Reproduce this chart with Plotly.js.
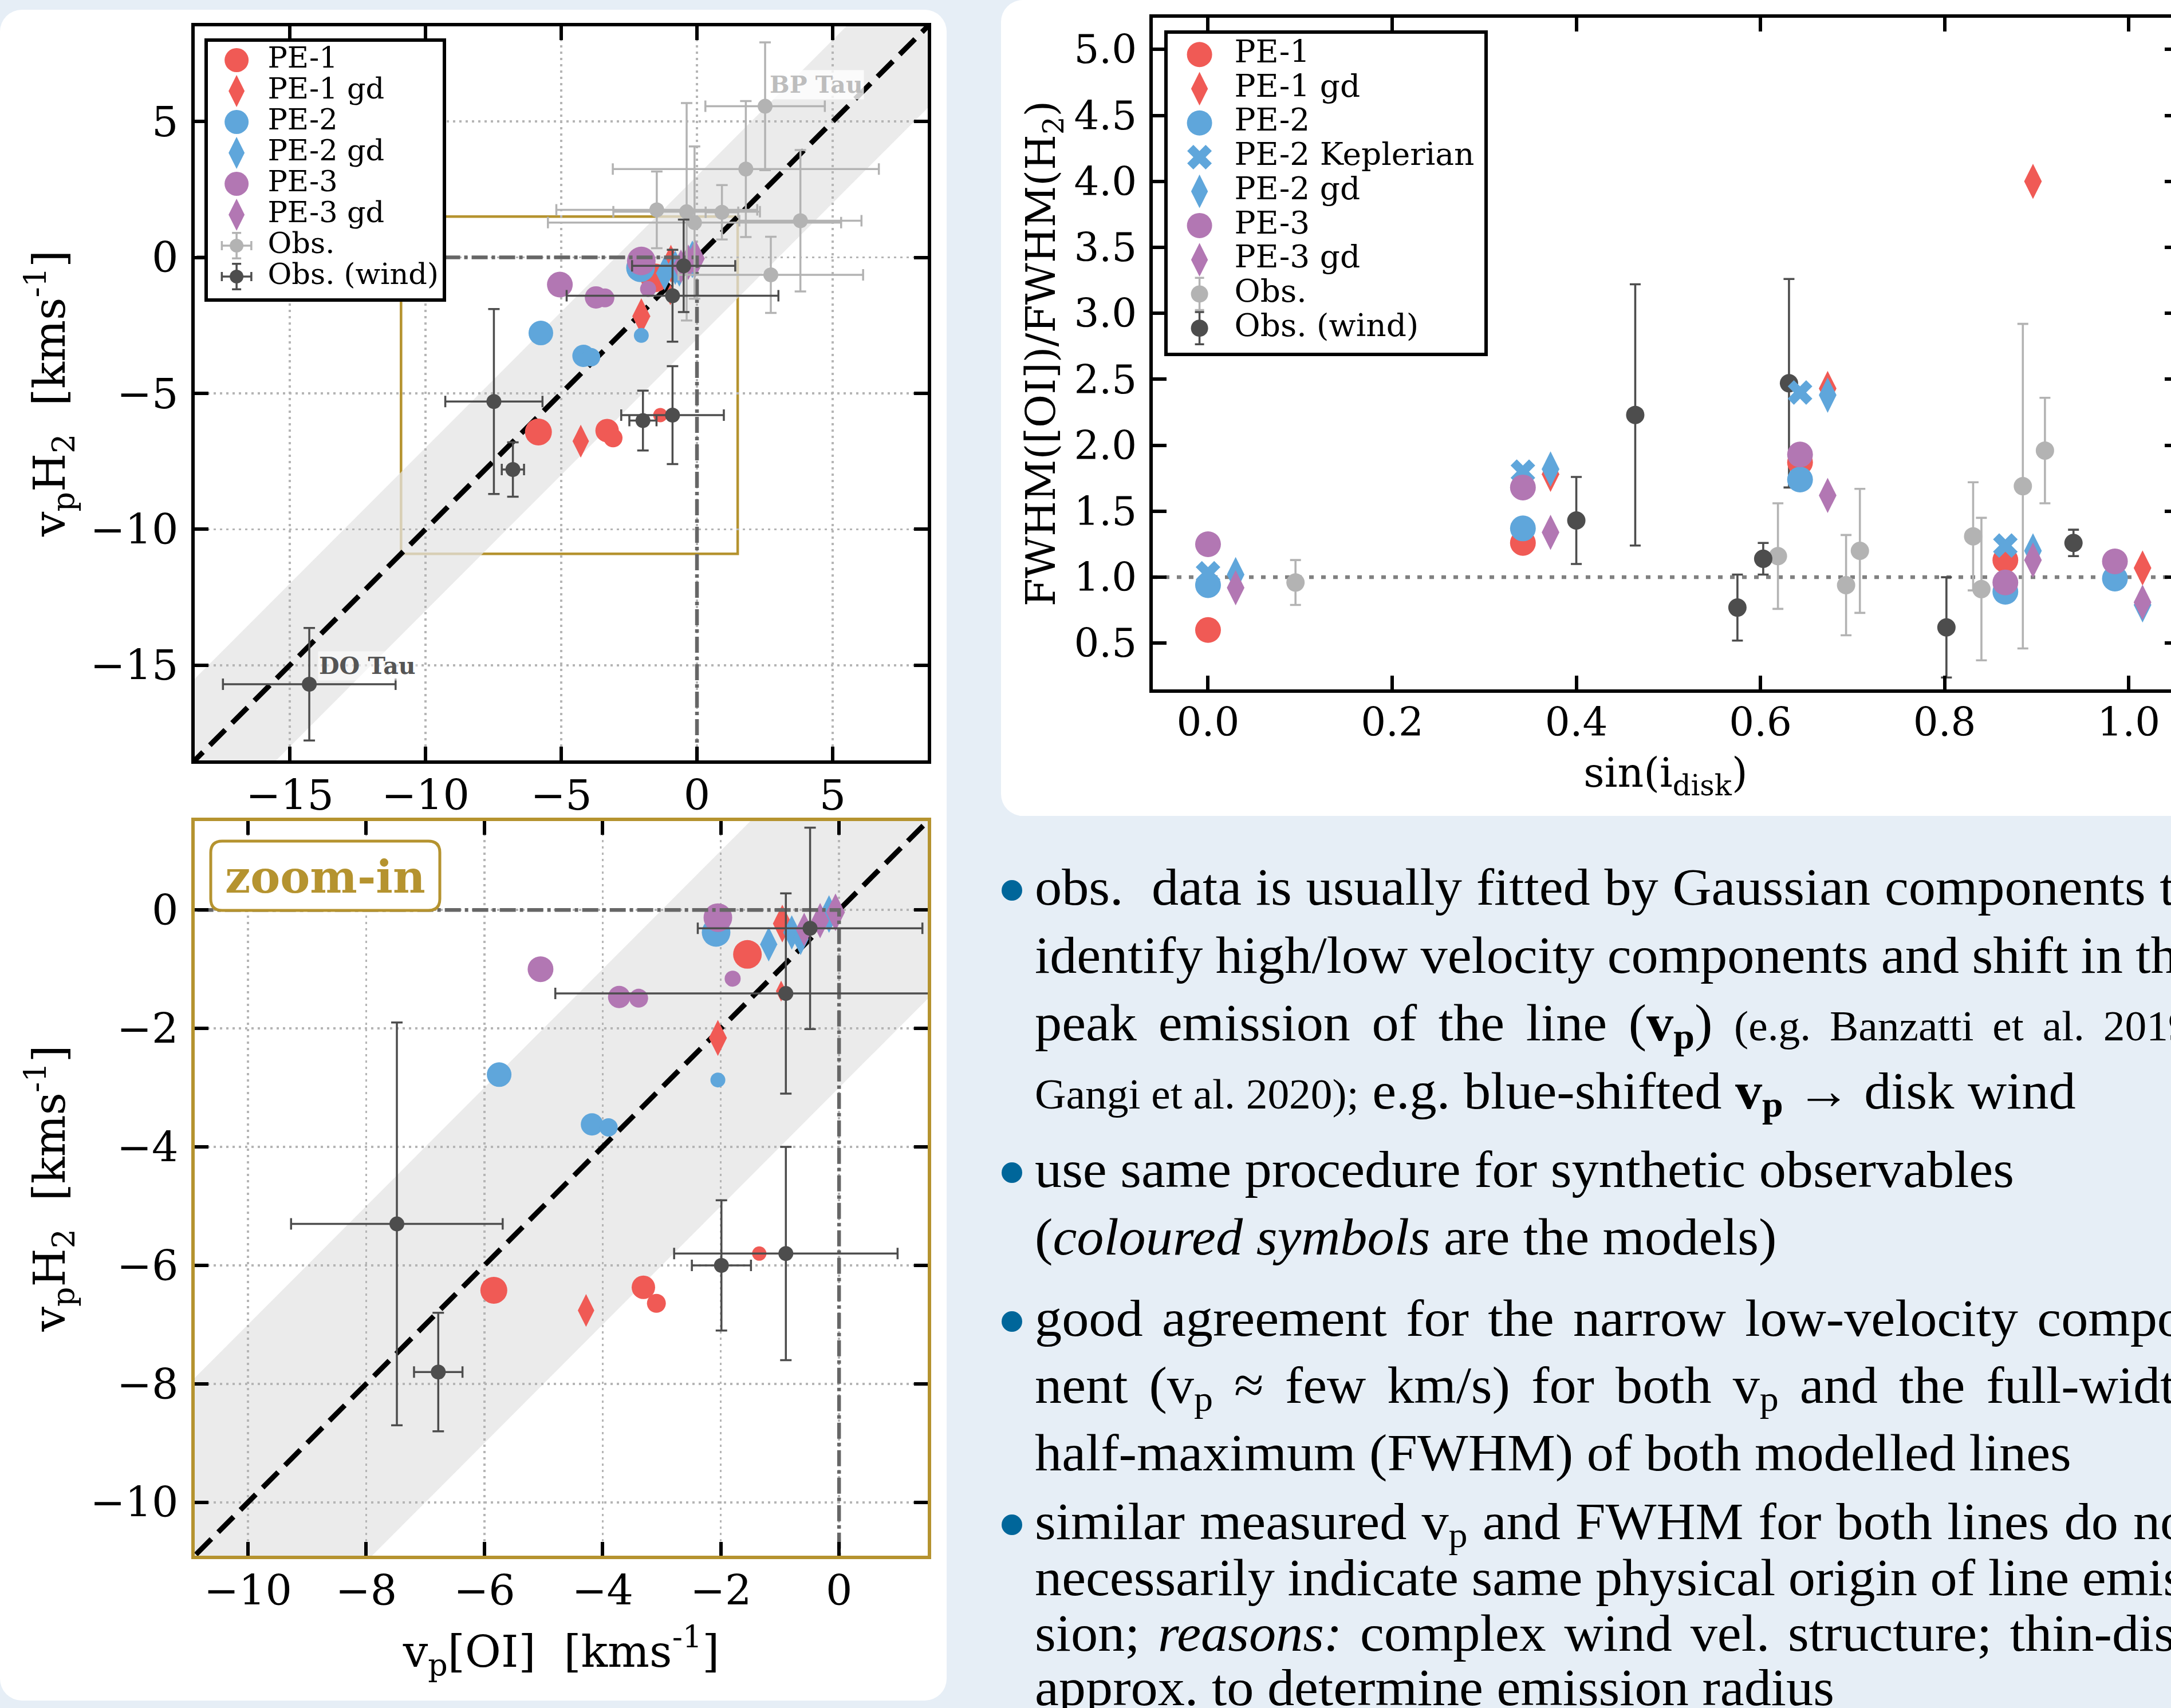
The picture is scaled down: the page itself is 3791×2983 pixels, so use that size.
<!DOCTYPE html>
<html>
<head>
<meta charset="utf-8">
<title>vp and FWHM comparison: [OI] vs H2</title>
<script src="https://cdn.plot.ly/plotly-3.0.1.min.js"></script>
<style>
  html, body { margin:0; padding:0; width:3791px; height:2983px; overflow:hidden; background:#e6eef6; }
  .panel { position:absolute; background:#ffffff; border-radius:38px; }
  #chart { position:absolute; left:0; top:0; width:3830px; height:2983px; z-index:1; }
  #notes { position:absolute; left:0; top:0; z-index:2; }
  .ln { position:absolute; left:1807px; font-family:'Liberation Serif','Times New Roman',serif; font-size:92px; line-height:0.9; color:#000; transform:scaleX(1.025); transform-origin:0 0; white-space:nowrap; }
  .ln sub { font-size:0.7em; vertical-align:-0.22em; line-height:0; }
  .sm { font-size:0.8em; }
  .bul { position:absolute; left:1749px; width:36px; height:36px; border-radius:50%; background:#00669a; }
</style>
</head>
<body>
<div class="panel" style="left:0;top:17px;width:1653px;height:2953px;"></div>
<div class="panel" style="left:1748px;top:0;width:2200px;height:1425px;"></div>
<div id="chart"></div>
<div id="notes"></div>
<script>
// ================= DATA =================
// Left panels: peak velocity v_p of [OI] (x) vs H2 (y), km/s
const pe1_vOI   = [-1.55, -5.84, -3.31, -3.09, -1.35];
const pe1_vH2   = [-0.75, -6.42, -6.37, -6.64, -5.80];
const pe1gd_vOI = [-2.05, -4.28, -0.96, -0.98];
const pe1gd_vH2 = [-2.16, -6.76, -0.23, -1.37];
const pe2_vOI   = [-2.08, -5.75, -4.18, -3.90, -2.05];
const pe2_vH2   = [-0.38, -2.78, -3.62, -3.67, -2.87];
const pe2gd_vOI = [-1.19, -0.80, -0.65, -0.17];
const pe2gd_vH2 = [-0.58, -0.38, -0.49, -0.07];
const pe3_vOI   = [-2.05, -5.05, -3.72, -3.39, -1.80];
const pe3_vH2   = [-0.13, -1.00, -1.47, -1.49, -1.16];
const pe3gd_vOI = [-0.59, -0.32, -0.06];
const pe3gd_vH2 = [-0.33, -0.18, -0.04];

const obs_vOI     = [2.51, 1.80, -1.48, -0.38, 0.92, -0.09, 3.81, 2.72];
const obs_vOIerr  = [2.20, 4.90, 3.70, 2.70, 0.60, 5.40, 2.25, 3.40];
const obs_vH2     = [5.56, 3.25, 1.75, 1.68, 1.66, 1.28, 1.35, -0.64];
const obs_vH2err  = [2.35, 2.50, 1.41, 4.00, 1.00, 2.80, 2.60, 1.40];

const wind_vOI    = [-0.49, -0.90, -7.48, -6.78, -1.99, -0.90, -14.28];
const wind_vOIerr = [1.90, 3.90, 1.79, 0.41, 0.50, 1.89, 3.18];
const wind_vH2    = [-0.31, -1.41, -5.30, -7.80, -6.00, -5.80, -15.70];
const wind_vH2err = [1.70, 1.69, 3.40, 1.00, 1.10, 1.80, 2.07];

// Right panel: FWHM([OI])/FWHM(H2) vs sin(i_disk)
const pe1_sini     = [0.000, 0.342, 0.643, 0.866];
const pe1_ratio    = [0.60, 1.26, 1.87, 1.13];
const pe1gd_sini   = [0.372, 0.673, 0.896, 1.015];
const pe1gd_ratio  = [1.78, 2.43, 4.00, 1.07];
const pe2_sini     = [0.000, 0.342, 0.643, 0.866, 0.985];
const pe2_ratio    = [0.94, 1.37, 1.74, 0.89, 0.99];
const pe2kep_sini  = [0.000, 0.342, 0.643, 0.866];
const pe2kep_ratio = [1.03, 1.80, 2.40, 1.24];
const pe2gd_sini   = [0.030, 0.372, 0.673, 0.896, 1.015];
const pe2gd_ratio  = [1.02, 1.82, 2.38, 1.20, 0.79];
const pe3_sini     = [0.000, 0.342, 0.643, 0.866, 0.985];
const pe3_ratio    = [1.25, 1.68, 1.93, 0.96, 1.12];
const pe3gd_sini   = [0.030, 0.372, 0.673, 0.896, 1.015];
const pe3gd_ratio  = [0.92, 1.34, 1.62, 1.13, 0.81];
const obsR_sini    = [0.095, 0.619, 0.693, 0.708, 0.831, 0.840, 0.885, 0.909];
const obsR_ratio   = [0.96, 1.16, 0.94, 1.20, 1.31, 0.91, 1.69, 1.96];
const obsR_err     = [0.17, 0.40, 0.38, 0.47, 0.41, 0.54, 1.23, 0.40];
const windR_sini   = [0.400, 0.464, 0.575, 0.603, 0.631, 0.802, 0.940];
const windR_ratio  = [1.43, 2.23, 0.77, 1.14, 2.47, 0.62, 1.26];
const windR_err    = [0.33, 0.99, 0.25, 0.12, 0.79, 0.38, 0.10];

// Axis ranges / reference values
const fullRange   = [-18.5, 8.5];
const zoomRange   = [-10.9, 1.5];
const rightXRange = [-0.06, 1.054];
const rightYRange = [0.15, 5.24];
const bandHalfWidth = 3;      // km/s band around 1:1 line
const ratioRef = 1.0;

// Legend labels and labelled objects
const leftLegendNames  = ['PE-1', 'PE-1 gd', 'PE-2', 'PE-2 gd', 'PE-3', 'PE-3 gd', 'Obs.', 'Obs. (wind)'];
const rightLegendNames = ['PE-1', 'PE-1 gd', 'PE-2', 'PE-2 Keplerian', 'PE-2 gd', 'PE-3', 'PE-3 gd', 'Obs.', 'Obs. (wind)'];
const labelBP = {name: 'BP Tau', x: 4.39, y: 6.36};
const labelDO = {name: 'DO Tau', x: -12.15, y: -15.02};

// Text block
const noteText = [
  'obs.\u00a0 data is usually fitted by Gaussian components to',
  'identify high/low velocity components and shift in the',
  'peak emission of the line (<b>v<sub>p</sub></b>) <span class="sm">(e.g. Banzatti et al. 2019;</span>',
  '<span class="sm">Gangi et al. 2020);</span> e.g. blue-shifted <b>v<sub>p</sub></b> \u2192 disk wind',
  'use same procedure for synthetic observables',
  '(<i>coloured symbols</i> are the models)',
  'good agreement for the narrow low-velocity compo-',
  'nent (v<sub>p</sub> \u2248 few km/s) for both v<sub>p</sub> and the full-width',
  'half-maximum (FWHM) of both modelled lines',
  'similar measured v<sub>p</sub> and FWHM for both lines do not',
  'necessarily indicate same physical origin of line emis-',
  'sion; <i>reasons:</i> complex wind vel. structure; thin-disk',
  'approx. to determine emission radius'
];

// ================= STYLE / LAYOUT =================
const W = 3830, H = 2983;
const px = v => v / W;
const py = v => 1 - v / H;
const C = {pe1:'#f05a55', pe2:'#5fa6db', pe3:'#b277b3', obs:'#b3b3b3', wind:'#4d4d4d', gold:'#b5932f'};
const SERIF = 'DejaVu Serif';

const pe1_sz = [50, 47, 41, 33, 25];
const pe1gd_sz = [45, 41, 47, 26];
const pe2_sz = [50, 43, 39, 32, 26];
const pe2gd_sz = [43, 43, 40, 47];
const pe3_sz = [50, 45, 39, 33, 28];
const pe3gd_sz = [42, 44, 47];

const leftModels = [
  {x: pe1_vOI,   y: pe1_vH2,   c: C.pe1, s: 'circle',       sz: pe1_sz},
  {x: pe1gd_vOI, y: pe1gd_vH2, c: C.pe1, s: 'diamond-tall', sz: pe1gd_sz},
  {x: pe2_vOI,   y: pe2_vH2,   c: C.pe2, s: 'circle',       sz: pe2_sz},
  {x: pe2gd_vOI, y: pe2gd_vH2, c: C.pe2, s: 'diamond-tall', sz: pe2gd_sz},
  {x: pe3_vOI,   y: pe3_vH2,   c: C.pe3, s: 'circle',       sz: pe3_sz},
  {x: pe3gd_vOI, y: pe3gd_vH2, c: C.pe3, s: 'diamond-tall', sz: pe3gd_sz}
];
const rightModels = [
  {x: pe1_sini,    y: pe1_ratio,    c: C.pe1, s: 'circle',       sz: 45},
  {x: pe1gd_sini,  y: pe1gd_ratio,  c: C.pe1, s: 'diamond-tall', sz: 44},
  {x: pe2_sini,    y: pe2_ratio,    c: C.pe2, s: 'circle',       sz: 45},
  {x: pe2kep_sini, y: pe2kep_ratio, c: C.pe2, s: 'x',            sz: 38},
  {x: pe2gd_sini,  y: pe2gd_ratio,  c: C.pe2, s: 'diamond-tall', sz: 44},
  {x: pe3_sini,    y: pe3_ratio,    c: C.pe3, s: 'circle',       sz: 45},
  {x: pe3gd_sini,  y: pe3gd_ratio,  c: C.pe3, s: 'diamond-tall', sz: 44}
];

const data = [];
function base(xa, ya) { return {type:'scatter', xaxis:xa, yaxis:ya, hoverinfo:'skip', showlegend:false}; }

function leftPanel(xa, ya, range, withObs) {
  const lo = range[0] - 6, hi = range[1] + 6;
  data.push(Object.assign(base(xa, ya), {mode:'lines', x:[lo, hi], y:[lo, hi],
    line:{color:'#000', width:9, dash:'38px,17px'}}));
  leftModels.forEach(m => data.push(Object.assign(base(xa, ya), {mode:'markers', x:m.x, y:m.y,
    marker:{color:m.c, symbol:m.s, size:m.sz, opacity:1, line:{width:0}}})));
  data.push(Object.assign(base(xa, ya), {mode:'lines', x:[lo, 0, 0], y:[0, 0, lo],
    line:{color:'#666666', width:6.5, dash:'28px,7px,6px,7px'}}));
  if (withObs) {
    data.push(Object.assign(base(xa, ya), {mode:'markers', x:obs_vOI, y:obs_vH2,
      marker:{color:C.obs, size:26, opacity:1},
      error_x:{type:'data', array:obs_vOIerr, color:C.obs, thickness:3.5, width:10},
      error_y:{type:'data', array:obs_vH2err, color:C.obs, thickness:3.5, width:10}}));
  }
  data.push(Object.assign(base(xa, ya), {mode:'markers', x:wind_vOI, y:wind_vH2,
    marker:{color:C.wind, size:26, opacity:1},
    error_x:{type:'data', array:wind_vOIerr, color:C.wind, thickness:3.5, width:10},
    error_y:{type:'data', array:wind_vH2err, color:C.wind, thickness:3.5, width:10}}));
}
leftPanel('x', 'y', fullRange, true);
leftPanel('x2', 'y2', zoomRange, false);

// Right panel
data.push(Object.assign(base('x3', 'y3'), {mode:'lines', x:rightXRange, y:[ratioRef, ratioRef],
  line:{color:'#808080', width:6.5, dash:'8px,13px'}}));
data.push(Object.assign(base('x3', 'y3'), {mode:'markers', x:obsR_sini, y:obsR_ratio,
  marker:{color:C.obs, size:32, opacity:1},
  error_y:{type:'data', array:obsR_err, color:C.obs, thickness:3.6, width:9.5}}));
data.push(Object.assign(base('x3', 'y3'), {mode:'markers', x:windR_sini, y:windR_ratio,
  marker:{color:C.wind, size:32, opacity:1},
  error_y:{type:'data', array:windR_err, color:C.wind, thickness:3.6, width:9.5}}));
rightModels.forEach(m => data.push(Object.assign(base('x3', 'y3'), {mode:'markers', x:m.x, y:m.y,
  marker:{color:m.c, symbol:m.s, size:m.sz, opacity:1, line:{width:0}}})));

// Legends (drawn on their own invisible axes; rows = entry index)
function legend(xa, ya, names, models, symX, txtX, msz, obsSz, obsErrX, obsErrY, fontSize) {
  const rows = names.map((_, i) => i);
  const nm = models.length;
  data.push(Object.assign(base(xa, ya), {mode:'markers',
    x: rows.slice(0, nm).map(() => symX), y: rows.slice(0, nm),
    marker:{color: models.map(m => m.c), symbol: models.map(m => m.s), opacity:1,
            size: models.map(m => m.s === 'circle' ? msz[0] : (m.s === 'x' ? msz[2] : msz[1])), line:{width:0}}}));
  [[C.obs, nm], [C.wind, nm + 1]].forEach(([col, r]) => {
    const t = Object.assign(base(xa, ya), {mode:'markers', x:[symX], y:[rows[r]],
      marker:{color:col, size:obsSz, opacity:1},
      error_y:{type:'data', array:[obsErrY], color:col, thickness:3.5, width:8}});
    if (obsErrX) t.error_x = {type:'data', array:[obsErrX], color:col, thickness:3.5, width:8};
    data.push(t);
  });
  data.push(Object.assign(base(xa, ya), {mode:'text', x: rows.map(() => txtX), y: rows, text: names,
    textposition:'middle right', textfont:{family:SERIF, size:fontSize, color:'#000'}, cliponaxis:false}));
}
legend('x4', 'y4', leftLegendNames, leftModels.map(m => ({c:m.c, s:m.s})), 0.133, 0.262, [42, 40, 38], 24, 0.061, 0.41, 51);
legend('x5', 'y5', rightLegendNames, rightModels.map(m => ({c:m.c, s:m.s})), 0.109, 0.217, [44, 42, 38], 30, 0, 0.47, 55);

// Axes
function frameAxis(o) {
  return Object.assign({
    ticks:'inside', ticklen:24, tickwidth:6, tickcolor:'#000',
    showline:true, linewidth:6, linecolor:'#000', mirror:'ticks',
    zeroline:false, showgrid:false,
    tickfont:{family:SERIF, size:73, color:'#000'}, ticklabelstandoff:8
  }, o);
}
const grid = {showgrid:true, gridcolor:'#b5b5b5', gridwidth:3.5, griddash:'3.5px,7.5px'};
const vTitle = 'v<sub>p</sub>H<sub>2</sub>\u00a0\u00a0[kms<sup>-1</sup>]';
const hidden = {visible:false, showgrid:false, zeroline:false};
const xLabStand = -8;

const layout = {
  width:W, height:H, margin:{l:0, r:0, t:0, b:0},
  paper_bgcolor:'rgba(0,0,0,0)', plot_bgcolor:'#ffffff', showlegend:false,
  font:{family:SERIF, color:'#000'},
  xaxis: frameAxis(Object.assign({domain:[px(340), px(1620)], range:fullRange, dtick:5, tick0:0, anchor:'y',
    ticklabelstandoff:xLabStand}, grid)),
  yaxis: frameAxis(Object.assign({domain:[py(1328), py(46)], range:fullRange, dtick:5, tick0:0, anchor:'x',
    title:{text:vTitle, font:{family:SERIF, size:77}, standoff:20}}, grid)),
  xaxis2: frameAxis(Object.assign({domain:[px(340), px(1620)], range:zoomRange, dtick:2, tick0:0, anchor:'y2', linecolor:C.gold,
    ticklabelstandoff:xLabStand,
    title:{text:'v<sub>p</sub>[OI]\u00a0\u00a0[kms<sup>-1</sup>]', font:{family:SERIF, size:77}, standoff:40}}, grid)),
  yaxis2: frameAxis(Object.assign({domain:[py(2717), py(1434)], range:zoomRange, dtick:2, tick0:0, anchor:'x2', linecolor:C.gold,
    title:{text:vTitle, font:{family:SERIF, size:77}, standoff:20}}, grid)),
  xaxis3: frameAxis({domain:[px(2013), px(3804)], range:rightXRange, dtick:0.2, tick0:0, tickformat:'.1f', anchor:'y3',
    ticklabelstandoff:xLabStand, tickfont:{family:SERIF, size:69, color:'#000'},
    title:{text:'sin(i<sub>disk</sub>)', font:{family:SERIF, size:71}, standoff:27}}),
  yaxis3: frameAxis({domain:[py(1204), py(31)], range:rightYRange, dtick:0.5, tick0:0, tickformat:'.1f', anchor:'x3',
    tickfont:{family:SERIF, size:69, color:'#000'},
    title:{text:'FWHM([OI])/FWHM(H<sub>2</sub>)', font:{family:SERIF, size:71}, standoff:12}}),
  xaxis4: Object.assign({domain:[px(357), px(779)], range:[0, 1], anchor:'y4'}, hidden),
  yaxis4: Object.assign({domain:[py(527), py(67)], range:[7.815, -0.704], anchor:'x4'}, hidden),
  xaxis5: Object.assign({domain:[px(2033), px(2598)], range:[0, 1], anchor:'y5'}, hidden),
  yaxis5: Object.assign({domain:[py(622), py(53)], range:[8.818, -0.707], anchor:'x5'}, hidden),
  shapes: [],
  annotations: []
};

// zoom window outline in the full panel (below the band)
layout.shapes.push({type:'rect', xref:'x', yref:'y', x0:zoomRange[0], x1:zoomRange[1], y0:zoomRange[0], y1:zoomRange[1],
  line:{color:C.gold, width:4.5}, fillcolor:'rgba(0,0,0,0)', layer:'below'});
// +/- band around the 1:1 line
[['x', 'y', fullRange], ['x2', 'y2', zoomRange]].forEach(([xa, ya, r]) => {
  const a = r[0] - 6, b = r[1] + 6, d = bandHalfWidth;
  layout.shapes.push({type:'path', xref:xa, yref:ya, layer:'below', line:{width:0},
    fillcolor:'rgba(228,228,228,0.74)',
    path:`M${a},${a - d} L${b},${b - d} L${b},${b + d} L${a},${a + d} Z`});
});
// legend frames
layout.shapes.push({type:'rect', xref:'x4', yref:'y4', x0:0, x1:1, y0:-0.704, y1:7.815,
  fillcolor:'#ffffff', line:{color:'#000', width:12}, layer:'below'});
layout.shapes.push({type:'rect', xref:'x5', yref:'y5', x0:0, x1:1, y0:-0.707, y1:8.818,
  fillcolor:'#ffffff', line:{color:'#000', width:12}, layer:'below'});
// zoom-in label box (rounded)
(function () {
  const x0 = 368, x1 = 768, y0 = 1469, y1 = 1590, r = 20;
  const P = (x, y) => `${px(x)},${py(y)}`;
  const path = `M${P(x0 + r, y0)} L${P(x1 - r, y0)} Q${P(x1, y0)} ${P(x1, y0 + r)} L${P(x1, y1 - r)} Q${P(x1, y1)} ${P(x1 - r, y1)} ` +
               `L${P(x0 + r, y1)} Q${P(x0, y1)} ${P(x0, y1 - r)} L${P(x0, y0 + r)} Q${P(x0, y0)} ${P(x0 + r, y0)} Z`;
  layout.shapes.push({type:'path', xref:'paper', yref:'paper', path, fillcolor:'#ffffff',
    line:{color:C.gold, width:5}, layer:'above'});
  layout.annotations.push({xref:'paper', yref:'paper', x:px((x0 + x1) / 2), y:py((y0 + y1) / 2 + 2),
    text:'<b>zoom-in</b>', showarrow:false, xanchor:'center', yanchor:'middle',
    font:{family:SERIF, size:78, color:C.gold}});
})();
layout.annotations.push({xref:'x', yref:'y', x:labelBP.x, y:labelBP.y, text:'<b>' + labelBP.name + '</b>', showarrow:false,
  font:{family:SERIF, size:41, color:'#bdbdbd'}, bgcolor:'rgba(255,255,255,0.8)', borderpad:1});
layout.annotations.push({xref:'x', yref:'y', x:labelDO.x, y:labelDO.y, text:'<b>' + labelDO.name + '</b>', showarrow:false,
  font:{family:SERIF, size:41, color:'#555555'}, bgcolor:'rgba(255,255,255,0.55)', borderpad:1});

Plotly.newPlot('chart', data, layout, {staticPlot:true, displayModeBar:false});

// ================= TEXT BLOCK =================
const noteBaseline = [1580, 1699, 1817, 1936, 2073, 2191, 2333, 2450, 2568, 2688, 2786, 2883, 2978];
const noteJustify  = [1, 1, 1, 0, 0, 0, 1, 1, 0, 1, 1, 1, 0];
const bulletLines  = [0, 4, 6, 9];
const textScale = 1.025, textLeft = 1807, textRight = 3845;
const baselineOffset = 72.5;   // line-height 0.9 at 92px
const notes = document.getElementById('notes');
const justified = [];
noteText.forEach((t, i) => {
  const d = document.createElement('div');
  d.className = 'ln';
  d.style.top = (noteBaseline[i] - baselineOffset) + 'px';
  d.innerHTML = t;
  notes.appendChild(d);
  if (noteJustify[i]) justified.push(d);
  if (bulletLines.includes(i)) {
    const b = document.createElement('div');
    b.className = 'bul';
    b.style.top = (noteBaseline[i] - 25 - 18) + 'px';
    notes.appendChild(b);
  }
});
function justify() {
  const target = (textRight - textLeft) / textScale;
  justified.forEach(d => {
    d.style.wordSpacing = '0px';
    const natural = d.offsetWidth;
    const n = (d.textContent.match(/[ \u00a0]/g) || []).length;
    if (n) d.style.wordSpacing = ((target - natural) / n) + 'px';
  });
}
justify();
if (document.fonts && document.fonts.ready) document.fonts.ready.then(justify);
</script>
</body>
</html>
